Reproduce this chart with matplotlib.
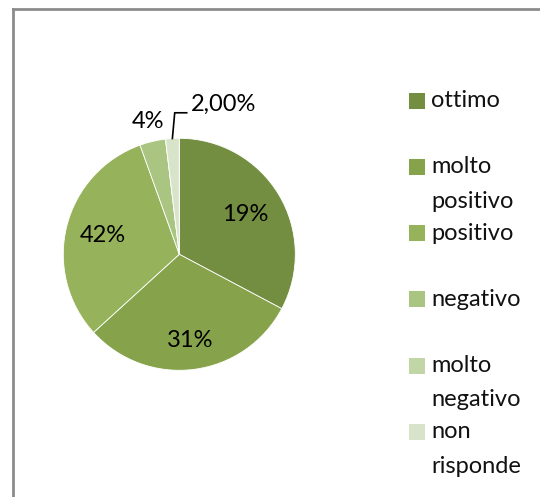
import numpy as np
import matplotlib.pyplot as plt
from matplotlib.patches import Rectangle

# data (slice sizes from angles, label texts as printed)
categories = ["ottimo", "molto\npositivo", "positivo", "negativo", "molto\nnegativo", "non\nrisponde"]
values = [32.8, 30.5, 31.3, 3.6, 0.0, 1.9]
slice_labels = ["19%", "31%", "42%", "4%", "", "2,00%"]
colors = ["#738D41", "#86A34B", "#96B35B", "#AAC581", "#C2D5A6", "#D8E4C9"]

W, H = 540, 497
fig = plt.figure(figsize=(W / 100, H / 100), dpi=100)
fig.patch.set_facecolor("white")
font = "Lato"
fs = 17

# chart border
fig.add_artist(plt.Line2D([12.5 / W, 12.5 / W], [0, 1 - 8.5 / H], color="#8c8c8c", lw=2))
fig.add_artist(plt.Line2D([12.5 / W, 1], [1 - 8.5 / H, 1 - 8.5 / H], color="#8c8c8c", lw=2))

cx, cy, r = 179.3, 254.3, 116
ax = fig.add_axes([(cx - r) / W, (H - cy - r) / H, 2 * r / W, 2 * r / H])
wedges, _ = ax.pie(values, colors=colors, startangle=90, counterclock=False,
                   radius=1, wedgeprops=dict(edgecolor="white", linewidth=0.6))
ax.set_xlim(-1, 1)
ax.set_ylim(-1, 1)
ax.set_aspect("equal")
ax.axis("off")

dist = [0.66, 0.75, 0.68, 1.18, 0, 0]
for i, w in enumerate(wedges[:4]):
    a = np.deg2rad((w.theta1 + w.theta2) / 2)
    ax.text(dist[i] * np.cos(a), dist[i] * np.sin(a), slice_labels[i],
            ha="center", va="center", fontsize=fs, family=font, clip_on=False)

# leader line for the small slice
w = wedges[5]
a = np.deg2rad((w.theta1 + w.theta2) / 2)
x0, y0 = np.cos(a), np.sin(a)
ax.plot([x0, x0 + 0.02, 0.064], [y0, 1.22, 1.22], color="black", lw=1.2, clip_on=False)
ax.text(0.1, 1.29, slice_labels[5], ha="left", va="center", fontsize=fs,
        family=font, clip_on=False)

# legend
for i, lab in enumerate(categories):
    yc = 100.7 + i * 66.2
    fig.add_artist(Rectangle((409 / W, 1 - (yc + 8) / H), 16 / W, 16 / H,
                             transform=fig.transFigure, color=colors[i], lw=0))
    for j, line in enumerate(lab.split("\n")):
        fig.text(431.5 / W, 1 - (yc + j * 34.5) / H, line, ha="left", va="center",
                 fontsize=fs, family=font, color="#111111")

plt.savefig("out.png", dpi=100)
